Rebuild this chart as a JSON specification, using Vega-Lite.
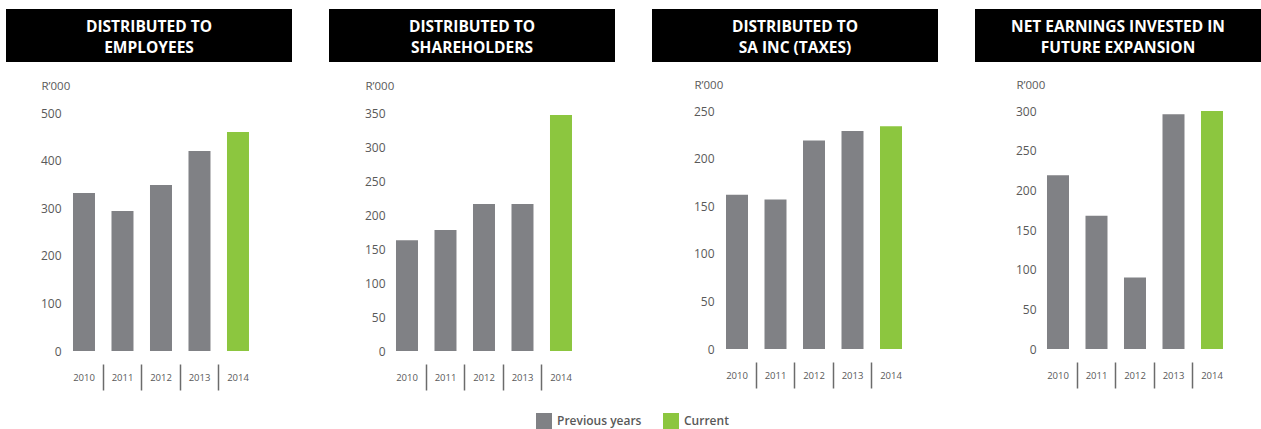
{
  "$schema": "https://vega.github.io/schema/vega-lite/v6.json",
  "padding": {"left": 6, "top": 9, "right": 0, "bottom": 0},
  "background": "white",
  "datasets": {
    "titles": [
      {"panel": "emp", "title": "DISTRIBUTED TO\nEMPLOYEES"},
      {"panel": "sh", "title": "DISTRIBUTED TO\nSHAREHOLDERS"},
      {"panel": "tax", "title": "DISTRIBUTED TO\nSA INC (TAXES)"},
      {"panel": "net", "title": "NET EARNINGS INVESTED IN\nFUTURE EXPANSION"}
    ],
    "main": [
      {"panel": "emp", "year": "2010", "value": 332, "status": "Previous years"},
      {"panel": "emp", "year": "2011", "value": 294, "status": "Previous years"},
      {"panel": "emp", "year": "2012", "value": 349, "status": "Previous years"},
      {"panel": "emp", "year": "2013", "value": 420, "status": "Previous years"},
      {"panel": "emp", "year": "2014", "value": 460, "status": "Current"},
      {"panel": "sh", "year": "2010", "value": 163, "status": "Previous years"},
      {"panel": "sh", "year": "2011", "value": 178, "status": "Previous years"},
      {"panel": "sh", "year": "2012", "value": 216, "status": "Previous years"},
      {"panel": "sh", "year": "2013", "value": 216, "status": "Previous years"},
      {"panel": "sh", "year": "2014", "value": 347, "status": "Current"},
      {"panel": "tax", "year": "2010", "value": 162, "status": "Previous years"},
      {"panel": "tax", "year": "2011", "value": 157, "status": "Previous years"},
      {"panel": "tax", "year": "2012", "value": 219, "status": "Previous years"},
      {"panel": "tax", "year": "2013", "value": 229, "status": "Previous years"},
      {"panel": "tax", "year": "2014", "value": 234, "status": "Current"},
      {"panel": "net", "year": "2010", "value": 219, "status": "Previous years"},
      {"panel": "net", "year": "2011", "value": 168, "status": "Previous years"},
      {"panel": "net", "year": "2012", "value": 90, "status": "Previous years"},
      {"panel": "net", "year": "2013", "value": 296, "status": "Previous years"},
      {"panel": "net", "year": "2014", "value": 300, "status": "Current"}
    ]
  },
  "spacing": 37,
  "resolve": {"scale": {"x": "independent", "y": "independent", "color": "shared"}, "legend": {"color": "shared"}},
  "hconcat": [
    {
      "spacing": 51, "bounds": "flush",
      "resolve": {"scale": {"x": "independent", "y": "independent", "color": "shared"}},
      "vconcat": [
        {
          "width": 286, "height": 53,
          "view": {"fill": "#000000", "stroke": null},
          "data": {"name": "titles"},
          "transform": [{"filter": "datum.panel == 'emp'"}],
          "mark": {"type": "text", "color": "white", "font": "Open Sans", "fontWeight": "bold", "fontSize": 15.5, "lineBreak": "\n", "lineHeight": 20.5, "baseline": "middle", "align": "center", "dy": -8.5},
          "encoding": {"text": {"field": "title", "type": "nominal"}}
        },
        {
          "width": 253, "height": 238,
          "view": {"stroke": null},
          "data": {"name": "main"},
          "transform": [{"filter": "datum.panel == 'emp'"}],
          "mark": {"type": "bar"},
          "encoding": {
            "x": {"field": "year", "type": "nominal", "scale": {"paddingInner": 0.4286, "paddingOuter": 1, "align": 0.87}, "axis": {"title": null, "bandPosition": -0.375}},
            "y": {"field": "value", "type": "quantitative", "scale": {"domain": [0, 500], "nice": false},
              "axis": {"values": [0, 100, 200, 300, 400, 500], "offset": -55, "title": "R’000", "titleX": -20, "titleY": -27}},
            "color": {"field": "status", "type": "nominal", "scale": {"domain": ["Previous years", "Current"], "range": ["#808185", "#8cc63f"]}, "legend": {"title": null, "orient": "none", "legendX": 530, "legendY": 404, "direction": "horizontal"}}
          }
        }
      ]
    },
    {
      "spacing": 51, "bounds": "flush",
      "resolve": {"scale": {"x": "independent", "y": "independent", "color": "shared"}},
      "vconcat": [
        {
          "width": 286, "height": 53,
          "view": {"fill": "#000000", "stroke": null},
          "data": {"name": "titles"},
          "transform": [{"filter": "datum.panel == 'sh'"}],
          "mark": {"type": "text", "color": "white", "font": "Open Sans", "fontWeight": "bold", "fontSize": 15.5, "lineBreak": "\n", "lineHeight": 20.5, "baseline": "middle", "align": "center", "dy": -8.5},
          "encoding": {"text": {"field": "title", "type": "nominal"}}
        },
        {
          "width": 253, "height": 238,
          "view": {"stroke": null},
          "data": {"name": "main"},
          "transform": [{"filter": "datum.panel == 'sh'"}],
          "mark": {"type": "bar"},
          "encoding": {
            "x": {"field": "year", "type": "nominal", "scale": {"paddingInner": 0.4286, "paddingOuter": 1, "align": 0.87}, "axis": {"title": null, "bandPosition": -0.375}},
            "y": {"field": "value", "type": "quantitative", "scale": {"domain": [0, 350], "nice": false},
              "axis": {"values": [0, 50, 100, 150, 200, 250, 300, 350], "offset": -56, "title": "R’000", "titleX": -20, "titleY": -27}},
            "color": {"field": "status", "type": "nominal", "scale": {"domain": ["Previous years", "Current"], "range": ["#808185", "#8cc63f"]}, "legend": {"title": null, "orient": "none", "legendX": 530, "legendY": 404, "direction": "horizontal"}}
          }
        }
      ]
    },
    {
      "spacing": 49, "bounds": "flush",
      "resolve": {"scale": {"x": "independent", "y": "independent", "color": "shared"}},
      "vconcat": [
        {
          "width": 286, "height": 53,
          "view": {"fill": "#000000", "stroke": null},
          "data": {"name": "titles"},
          "transform": [{"filter": "datum.panel == 'tax'"}],
          "mark": {"type": "text", "color": "white", "font": "Open Sans", "fontWeight": "bold", "fontSize": 15.5, "lineBreak": "\n", "lineHeight": 20.5, "baseline": "middle", "align": "center", "dy": -8.5},
          "encoding": {"text": {"field": "title", "type": "nominal"}}
        },
        {
          "width": 253, "height": 238,
          "view": {"stroke": null},
          "data": {"name": "main"},
          "transform": [{"filter": "datum.panel == 'tax'"}],
          "mark": {"type": "bar"},
          "encoding": {
            "x": {"field": "year", "type": "nominal", "scale": {"paddingInner": 0.4286, "paddingOuter": 1, "align": 0.961}, "axis": {"title": null, "bandPosition": -0.375}},
            "y": {"field": "value", "type": "quantitative", "scale": {"domain": [0, 250], "nice": false},
              "axis": {"values": [0, 50, 100, 150, 200, 250], "offset": -62, "title": "R’000", "titleX": -20, "titleY": -26}},
            "color": {"field": "status", "type": "nominal", "scale": {"domain": ["Previous years", "Current"], "range": ["#808185", "#8cc63f"]}, "legend": {"title": null, "orient": "none", "legendX": 530, "legendY": 404, "direction": "horizontal"}}
          }
        }
      ]
    },
    {
      "spacing": 49, "bounds": "flush",
      "resolve": {"scale": {"x": "independent", "y": "independent", "color": "shared"}},
      "vconcat": [
        {
          "width": 286, "height": 53,
          "view": {"fill": "#000000", "stroke": null},
          "data": {"name": "titles"},
          "transform": [{"filter": "datum.panel == 'net'"}],
          "mark": {"type": "text", "color": "white", "font": "Open Sans", "fontWeight": "bold", "fontSize": 15.5, "lineBreak": "\n", "lineHeight": 20.5, "baseline": "middle", "align": "center", "dy": -8.5},
          "encoding": {"text": {"field": "title", "type": "nominal"}}
        },
        {
          "width": 253, "height": 238,
          "view": {"stroke": null},
          "data": {"name": "main"},
          "transform": [{"filter": "datum.panel == 'net'"}],
          "mark": {"type": "bar"},
          "encoding": {
            "x": {"field": "year", "type": "nominal", "scale": {"paddingInner": 0.4286, "paddingOuter": 1, "align": 0.935}, "axis": {"title": null, "bandPosition": -0.375}},
            "y": {"field": "value", "type": "quantitative", "scale": {"domain": [0, 300], "nice": false},
              "axis": {"values": [0, 50, 100, 150, 200, 250, 300], "offset": -61, "title": "R’000", "titleX": -20, "titleY": -26}},
            "color": {"field": "status", "type": "nominal", "scale": {"domain": ["Previous years", "Current"], "range": ["#808185", "#8cc63f"]}, "legend": {"title": null, "orient": "none", "legendX": 530, "legendY": 404, "direction": "horizontal"}}
          }
        }
      ]
    }
  ],
  "config": {
    "font": "Open Sans",
    "view": {"stroke": null},
    "axisX": {
      "domain": false, "grid": false, "labelAngle": 0,
      "labelFont": "Open Sans", "labelFontSize": 9.5, "labelColor": "#595959",
      "labelBaseline": "middle", "labelPadding": -12.5,
      "offset": 13, "tickSize": 26, "tickWidth": 1.5, "tickColor": "#6b6b6b",
      "tickOpacity": {"condition": {"test": "datum.value == '2010'", "value": 0}, "value": 1}
    },
    "axisY": {
      "domain": false, "grid": false, "ticks": false, "tickSize": 0, "labelPadding": 0,
      "labelFont": "Open Sans", "labelFontSize": 12, "labelColor": "#595959",
      "titleAngle": 0, "titleAlign": "left", "titleBaseline": "middle",
      "titleFont": "Open Sans", "titleFontWeight": "normal", "titleFontSize": 11.5, "titleColor": "#595959"
    },
    "legend": {
      "padding": 0, "symbolType": "square", "symbolSize": 256, "symbolStrokeWidth": 0,
      "symbolOpacity": 1, "labelFont": "Open Sans", "labelFontSize": 12, "labelFontWeight": 600,
      "labelColor": "#595959", "labelOffset": 5, "columnPadding": 21
    }
  }
}
